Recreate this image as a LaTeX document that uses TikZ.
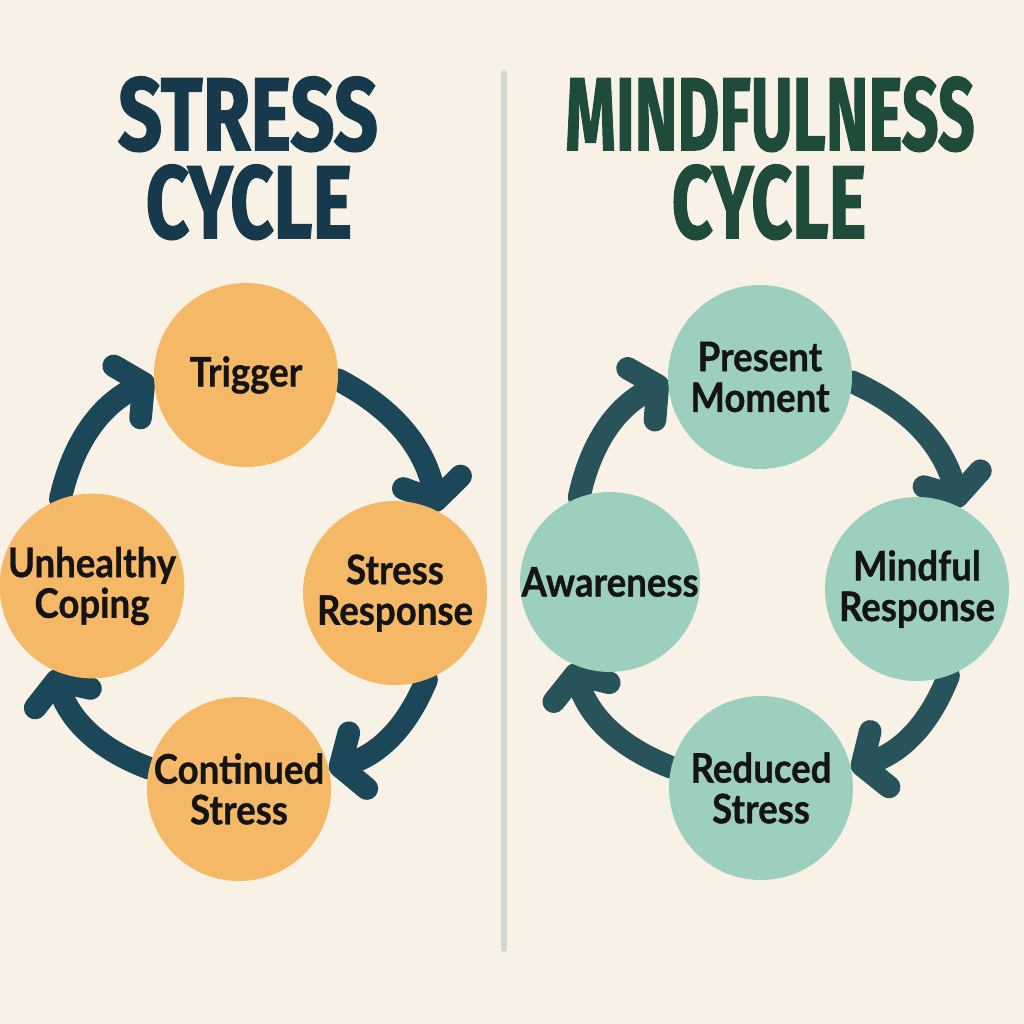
\documentclass[tikz,border=0pt]{standalone}
\usepackage{fontspec}
\setmainfont{Lato}[FakeStretch=0.9, BoldFeatures={FakeBold=0.8}]
\newfontfamily\ttlfont{Fira Sans}[BoldFeatures={FakeBold=1.5}]
\usetikzlibrary{arrows.meta}

\definecolor{cream}{HTML}{F8F2E6}
\definecolor{navyA}{HTML}{17394C}
\definecolor{greenB}{HTML}{1F4B3B}
\definecolor{orangeC}{HTML}{F5B867}
\definecolor{tealC}{HTML}{9DCFBF}
\definecolor{arrA}{HTML}{1B4759}
\definecolor{arrB}{HTML}{28535A}
\definecolor{divline}{HTML}{D6D8CE}
\definecolor{inktext}{HTML}{141414}

\pgfdeclarelayer{back}
\pgfsetlayers{back,main}

\tikzset{every picture/.style={line width=0.75pt}}
\tikzset{
  stage/.style={circle, inner sep=0pt, minimum size=138pt, align=center, text=inktext,
    font=\fontsize{30.5}{30.5}\selectfont\bfseries},
  ttlA/.style={anchor=base, inner sep=0pt, text=navyA, font=\ttlfont\bfseries},
  ttlB/.style={ttlA, text=greenB},
  flowA/.style={draw=arrA, line width=17pt, line cap=round,
    -{Straight Barb[length=14pt, width=44pt, round]}},
  flowB/.style={flowA, draw=arrB},
  divider/.style={draw=divline, line width=4.5pt, line cap=round}
}

\begin{document}
\begin{tikzpicture}[x=0.75pt,y=0.75pt,yscale=-1,xscale=1]
\useasboundingbox (0,0) rectangle (1024,1024);
\begin{pgfonlayer}{back}
\fill[cream] (0,0) rectangle (1024,1024);
\end{pgfonlayer}

%Straight Lines
\draw[divider] (504,73) -- (504,949);

% Text Node
\node (ttlA1) [ttlA] at (248,150) {\resizebox{195pt}{55pt}{STRESS}};
% Text Node
\node (ttlA2) [ttlA] at (249,238) {\resizebox{155pt}{55pt}{CYCLE}};
% Text Node
\node (ttlB1) [ttlB] at (770,150) {\resizebox{307pt}{55pt}{MINDFULNESS}};
% Text Node
\node (ttlB2) [ttlB] at (769,238) {\resizebox{146pt}{55pt}{CYCLE}};

% Stress cycle
\node (trig) [stage, fill=orangeC] at (246,375) {Trigger};
\node (resp) [stage, fill=orangeC] at (395,593) {Stress\\Response};
\node (cont) [stage, fill=orangeC] at (239,789) {Continued\\Stress};
\node (ucop) [stage, fill=orangeC] at (92,586) {Unhealthy\\Coping};

% Mindfulness cycle
\node (pres) [stage, fill=tealC] at (760,377) {Present\\Moment};
\node (mind) [stage, fill=tealC] at (917,589) {Mindful\\Response};
\node (redu) [stage, fill=tealC] at (761,788) {Reduced\\Stress};
\node (awar) [stage, fill=tealC, minimum size=135pt] at (610,582) {Awareness};

%Curve Lines
\begin{pgfonlayer}{back}
\draw[flowA] (trig.-3) to[bend right=25] (resp.62);
\draw[flowA] (resp.-70) to[bend right=25] (cont.12);
\draw[flowA] (cont.167) to[bend right=25] (ucop.-115);
\draw[flowA] (ucop.110) to[bend right=25] (trig.182);

\draw[flowB] (pres.-3) to[bend right=25] (mind.62);
\draw[flowB] (mind.-70) to[bend right=25] (redu.12);
\draw[flowB] (redu.167) to[bend right=25] (awar.-115);
\draw[flowB] (awar.110) to[bend right=25] (pres.182);
\end{pgfonlayer}
\end{tikzpicture}
\end{document}
